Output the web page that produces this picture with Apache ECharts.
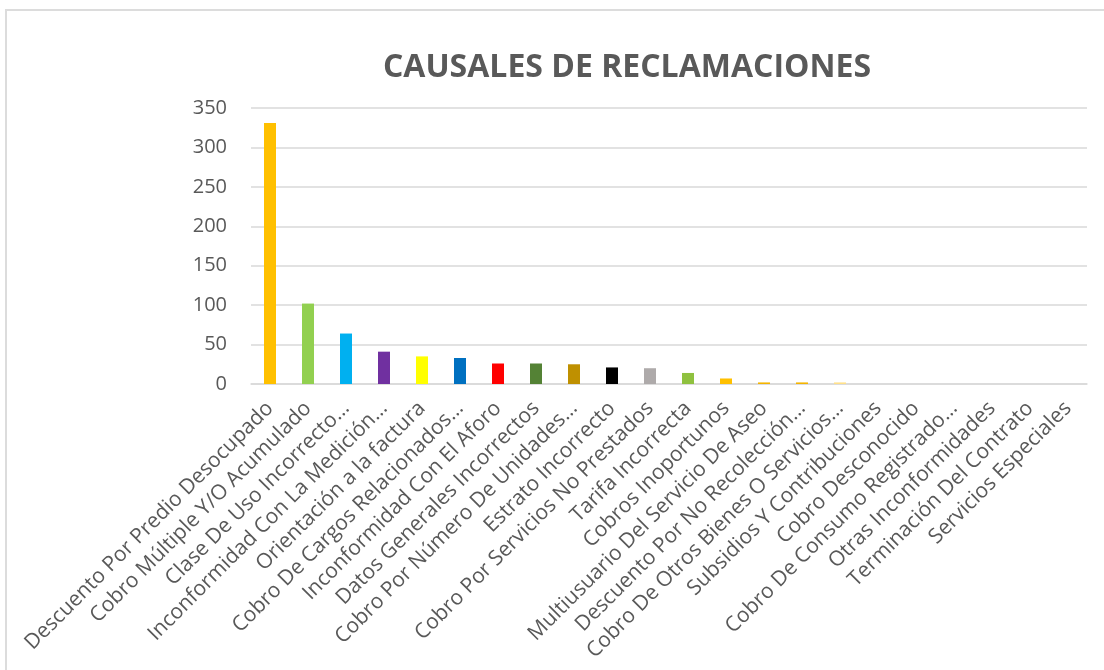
<!DOCTYPE html>
<html>
<head>
<meta charset="utf-8">
<script src="https://cdn.jsdelivr.net/npm/echarts@6/dist/echarts.min.js"></script>
<style>
  html, body { margin: 0; padding: 0; background: #fff; }
  #frame { position: absolute; left: 5px; top: 9px; width: 1200px; height: 800px;
           border-left: 2px solid #dcdcdc; border-top: 2px solid #dcdcdc; }
  #chart { position: absolute; left: 0; top: 0; width: 1104px; height: 670px; }
</style>
</head>
<body>
<div id="frame"></div>
<div id="chart"></div>
<script>
// causales (texto tal como sale en el eje, con los recortes de Excel)
var categories = [
  'Descuento Por Predio Desocupado',
  'Cobro Múltiple Y/O Acumulado',
  'Clase De Uso Incorrecto…',
  'Inconformidad Con La Medición…',
  'Orientación a la factura',
  'Cobro De Cargos Relacionados…',
  'Inconformidad Con El Aforo',
  'Datos Generales Incorrectos',
  'Cobro Por Número De Unidades…',
  'Estrato Incorrecto',
  'Cobro Por Servicios No Prestados',
  'Tarifa Incorrecta',
  'Cobros Inoportunos',
  'Multiusuario Del Servicio De Aseo',
  'Descuento Por No Recolección…',
  'Cobro De Otros Bienes O Servicios…',
  'Subsidios Y Contribuciones',
  'Cobro Desconocido',
  'Cobro De Consumo Registrado…',
  'Otras Inconformidades',
  'Terminación Del Contrato',
  'Servicios Especiales'
];

// numero de reclamaciones por causal
var reclamaciones = [331, 102, 64, 41, 35, 33, 26, 26, 25, 21, 20, 14, 7, 2, 2, 2, 0, 0, 0, 0, 0, 0];

var yTicks = [0, 50, 100, 150, 200, 250, 300, 350];

// colores de cada barra
var barColors = ['#FFC000', '#92D050', '#00B0F0', '#7030A0', '#FFFF00', '#0070C0', '#FF0000',
  '#548235', '#BF9000', '#000000', '#AEAAAA', '#8FC13F', '#FFC000', '#F4B400', '#F4B400',
  '#FFE08A', '#FFC000', '#FFC000', '#FFC000', '#FFC000', '#FFC000', '#FFC000'];

var myChart = echarts.init(document.getElementById('chart'));

myChart.setOption({
  animation: false,
  title: {
    text: 'CAUSALES DE RECLAMACIONES',
    left: 622,
    top: 47,
    textAlign: 'center',
    textStyle: {
      fontFamily: 'Open Sans',
      fontWeight: 'bold',
      fontSize: 32,
      color: '#595959'
    }
  },
  grid: {
    left: 251,
    right: 17,
    top: 108,
    bottom: 286
  },
  xAxis: {
    type: 'category',
    data: categories,
    axisLine: { lineStyle: { color: '#d9d9d9', width: 1.5 } },
    axisTick: { show: false },
    axisLabel: {
      interval: 0,
      rotate: 45,
      margin: 21,
      fontFamily: 'Open Sans',
      fontSize: 21,
      color: '#595959'
    }
  },
  yAxis: {
    type: 'value',
    min: yTicks[0],
    max: yTicks[yTicks.length - 1],
    interval: 50,
    axisLine: { show: false },
    axisTick: { show: false },
    splitLine: { lineStyle: { color: '#d9d9d9', width: 1.5 } },
    axisLabel: {
      margin: 24,
      fontFamily: 'Open Sans',
      fontSize: 20,
      color: '#595959'
    }
  },
  series: [
    {
      type: 'bar',
      data: reclamaciones,
      barWidth: 12,
      itemStyle: {
        color: function (p) { return barColors[p.dataIndex]; }
      }
    }
  ]
});
</script>
</body>
</html>
